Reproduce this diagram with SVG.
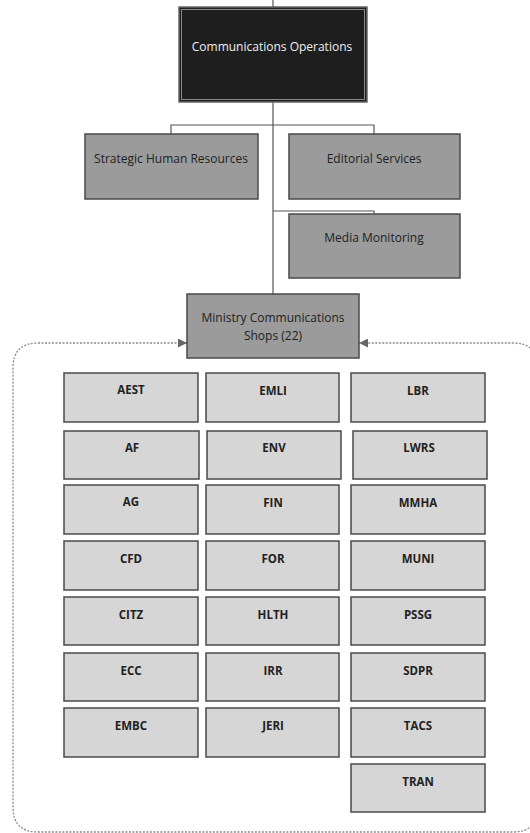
<svg xmlns="http://www.w3.org/2000/svg" width="530" height="833" viewBox="0 0 530 833">
<defs>
<style>
.conn{fill:none;stroke:#555;stroke-width:1.2}
.dash{fill:none;stroke:#8a8a8a;stroke-width:1.3;stroke-dasharray:2 1.5}
.top{fill:#1e1e1e;stroke:#666;stroke-width:1.5}
.topin{fill:none;stroke:#8a8a8a;stroke-width:1}
.mid{fill:#9b9b9b;stroke:#4a4a4a;stroke-width:1.5}
.cell{fill:#d6d6d6;stroke:#4a4a4a;stroke-width:1.5}
.t{font-family:"Open Sans","Noto Sans",sans-serif;font-size:12px;fill:#222;text-anchor:middle}
.tw{fill:#eeeeee}
.b{font-weight:bold;font-size:11.5px}
</style>
<marker id="ah" viewBox="0 0 10 10" refX="10" refY="5" markerWidth="9" markerHeight="9" markerUnits="userSpaceOnUse" orient="auto-start-reverse">
<path d="M0 0 L10 5 L0 10 z" fill="#666"/>
</marker>
</defs>
<g id="connectors">
<path class="conn" d="M273 0 V7"/>
<path class="conn" d="M273 102 V294"/>
<path class="conn" d="M171 134 V125 H374 V134"/>
<path class="conn" d="M273 211 H374 V214"/>
<path class="dash" marker-start="url(#ah)" marker-end="url(#ah)" d="M187 343 H38 Q13 343 13 368 V807 Q13 832 38 832 H513 Q538 832 538 807 V368 Q538 343 513 343 H359"/>
</g>
<g id="comm-ops">
<rect class="top" x="179" y="7" width="188" height="95"/>
<rect class="topin" x="181.5" y="9.5" width="183" height="90"/>
<text class="t tw" x="272" y="51">Communications Operations</text>
</g>
<g id="strategic-hr">
<rect class="mid" x="85" y="134" width="173" height="65"/>
<text class="t" x="171" y="163">Strategic Human Resources</text>
</g>
<g id="editorial">
<rect class="mid" x="289" y="134" width="171" height="65"/>
<text class="t" x="374" y="163">Editorial Services</text>
</g>
<g id="media-monitoring">
<rect class="mid" x="289" y="214" width="171" height="64"/>
<text class="t" x="374" y="242">Media Monitoring</text>
</g>
<g id="ministry-shops">
<rect class="mid" x="187" y="294" width="172" height="64"/>
<text class="t" x="273" y="322">Ministry Communications</text>
<text class="t" x="273" y="340">Shops (22)</text>
</g>
<g id="AEST"><rect class="cell" x="64" y="373" width="134" height="49"/><text class="t b" x="131" y="394">AEST</text></g>
<g id="EMLI"><rect class="cell" x="206" y="373" width="133" height="49"/><text class="t b" x="273" y="395">EMLI</text></g>
<g id="LBR"><rect class="cell" x="351" y="373" width="134" height="49"/><text class="t b" x="418" y="395">LBR</text></g>
<g id="AF"><rect class="cell" x="64" y="431" width="135" height="48"/><text class="t b" x="132" y="452">AF</text></g>
<g id="ENV"><rect class="cell" x="207" y="431" width="134" height="48"/><text class="t b" x="274" y="452">ENV</text></g>
<g id="LWRS"><rect class="cell" x="353" y="431" width="134" height="48"/><text class="t b" x="419" y="452">LWRS</text></g>
<g id="AG"><rect class="cell" x="64" y="485" width="134" height="49"/><text class="t b" x="131" y="506">AG</text></g>
<g id="FIN"><rect class="cell" x="206" y="485" width="133" height="49"/><text class="t b" x="273" y="507">FIN</text></g>
<g id="MMHA"><rect class="cell" x="351" y="485" width="134" height="49"/><text class="t b" x="418" y="507">MMHA</text></g>
<g id="CFD"><rect class="cell" x="64" y="541" width="134" height="49"/><text class="t b" x="131" y="563">CFD</text></g>
<g id="FOR"><rect class="cell" x="206" y="541" width="133" height="49"/><text class="t b" x="273" y="563">FOR</text></g>
<g id="MUNI"><rect class="cell" x="351" y="541" width="134" height="49"/><text class="t b" x="418" y="563">MUNI</text></g>
<g id="CITZ"><rect class="cell" x="64" y="597" width="134" height="48"/><text class="t b" x="131" y="619">CITZ</text></g>
<g id="HLTH"><rect class="cell" x="206" y="597" width="133" height="48"/><text class="t b" x="273" y="619">HLTH</text></g>
<g id="PSSG"><rect class="cell" x="351" y="597" width="134" height="48"/><text class="t b" x="418" y="619">PSSG</text></g>
<g id="ECC"><rect class="cell" x="64" y="653" width="134" height="48"/><text class="t b" x="131" y="675">ECC</text></g>
<g id="IRR"><rect class="cell" x="206" y="653" width="133" height="48"/><text class="t b" x="273" y="675">IRR</text></g>
<g id="SDPR"><rect class="cell" x="351" y="653" width="134" height="48"/><text class="t b" x="418" y="675">SDPR</text></g>
<g id="EMBC"><rect class="cell" x="64" y="708" width="134" height="49"/><text class="t b" x="131" y="730">EMBC</text></g>
<g id="JERI"><rect class="cell" x="206" y="708" width="133" height="49"/><text class="t b" x="273" y="730">JERI</text></g>
<g id="TACS"><rect class="cell" x="351" y="708" width="134" height="49"/><text class="t b" x="418" y="730">TACS</text></g>
<g id="TRAN"><rect class="cell" x="351" y="764" width="134" height="48"/><text class="t b" x="418" y="786">TRAN</text></g>
</svg>
